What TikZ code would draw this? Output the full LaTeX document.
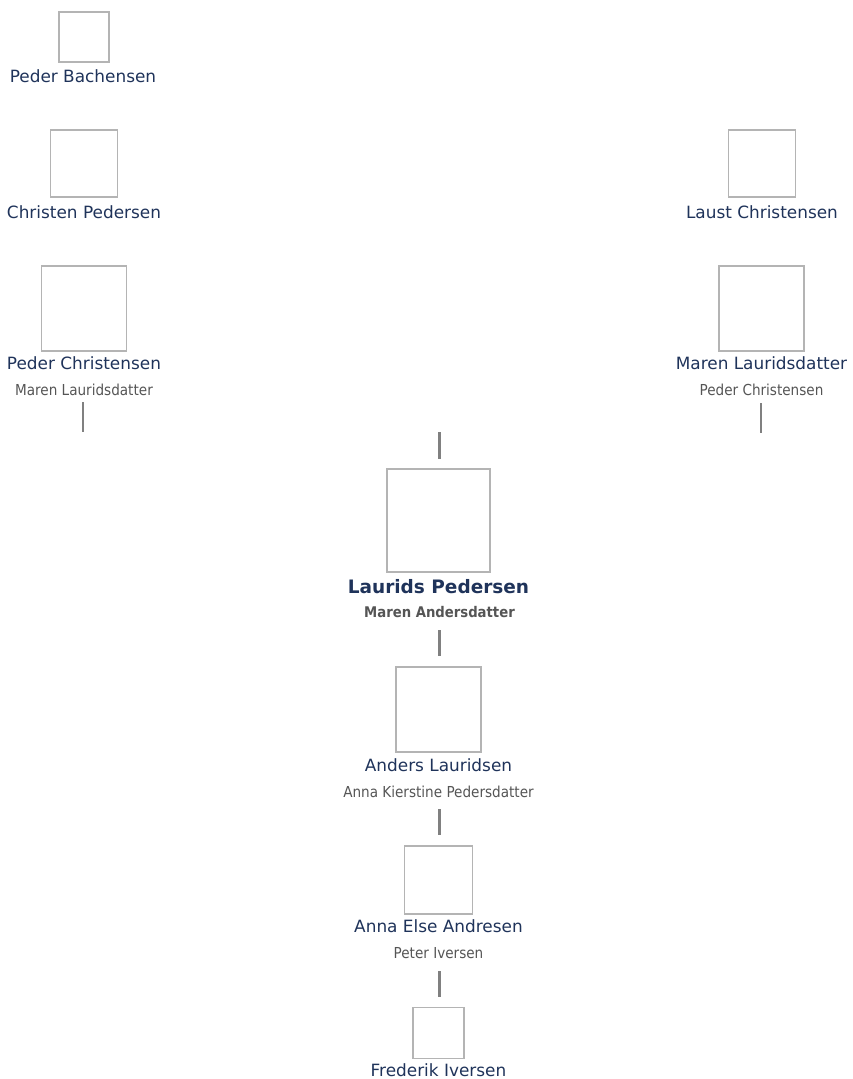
\documentclass[tikz,border=0pt]{standalone}
\usepackage{fontspec}
\setmainfont{DejaVu Sans}
\newfontfamily\condfont{DejaVu Sans Condensed}
\definecolor{namecol}{RGB}{31,51,90}
\definecolor{subcol}{RGB}{85,85,85}
\definecolor{boxcol}{RGB}{180,180,180}
\definecolor{linkcol}{RGB}{128,128,128}
\tikzset{
  photo/.style={draw=boxcol, line width=1.5pt, fill=white, minimum size=#1, inner sep=0pt},
  pname/.style={text=namecol, anchor=base, inner sep=0pt, font=\fontsize{16.9}{18}\selectfont},
  pmain/.style={text=namecol, anchor=base, inner sep=0pt, font=\fontsize{18.5}{20}\selectfont\bfseries},
  spouse/.style={text=subcol, anchor=base, inner sep=0pt, font=\condfont\fontsize{15.1}{16}\selectfont},
  spmain/.style={text=subcol, anchor=base, inner sep=0pt, font=\condfont\fontsize{14.7}{16}\selectfont\bfseries},
  link/.style={draw=linkcol, line width=2.5pt}
}
\begin{document}
\begin{tikzpicture}[x=1pt,y=1pt,yscale=-1,xscale=1]
\useasboundingbox (0,0) rectangle (852,1079);

% left line
\node[photo=50pt] (pb) at (84,37) {};
\node[pname] (pbN) at (83,82) {Peder Bachensen};
\node[photo=67pt] (cp) at (84,163.5) {};
\node[pname] (cpN) at (84,218) {Christen Pedersen};
\node[photo=85pt] (pc) at (84,308.5) {};
\node[pname] (pcN) at (84,369) {Peder Christensen};
\node[spouse] (pcS) at (84,395) {Maren Lauridsdatter};

% right line
\node[photo=67pt] (lc) at (762,163.5) {};
\node[pname] (lcN) at (762,218) {Laust Christensen};
\node[photo=85pt] (ml) at (761.5,308.5) {};
\node[pname] (mlN) at (761.5,369) {Maren Lauridsdatter};
\node[spouse] (mlS) at (761.5,395) {Peder Christensen};

% main person
\node[photo=103pt] (lp) at (438.5,520.5) {};
\node[pmain] (lpN) at (438.5,593) {Laurids Pedersen};
\node[spmain] (lpS) at (439.5,617) {Maren Andersdatter};

% descendants
\node[photo=85pt] (al) at (438.5,709.5) {};
\node[pname] (alN) at (438.5,771) {Anders Lauridsen};
\node[spouse] (alS) at (438.5,797) {Anna Kierstine Pedersdatter};
\node[photo=68pt] (ae) at (438.5,880) {};
\node[pname] (aeN) at (438.5,932) {Anna Else Andresen};
\node[spouse] (aeS) at (438.5,958) {Peter Iversen};
\node[photo=51pt] (fi) at (438.5,1033) {};
\node[pname] (fiN) at (438.5,1076) {Frederik Iversen};

% connectors
\coordinate (pcA) at (83,402);   \coordinate (pcB) at (83,432);
\coordinate (mlA) at (761,403);  \coordinate (mlB) at (761,433);
\coordinate (lpA) at (439.5,432); \coordinate (lpB) at (439.5,459);
\coordinate (lpC) at (439.5,630); \coordinate (lpD) at (439.5,656);
\coordinate (alA) at (439.5,809); \coordinate (alB) at (439.5,835);
\coordinate (aeA) at (439.5,971); \coordinate (aeB) at (439.5,997);
\draw[link] (pcA) -- (pcB);
\draw[link] (mlA) -- (mlB);
\draw[link] (lpA) -- (lpB);
\draw[link] (lpC) -- (lpD);
\draw[link] (alA) -- (alB);
\draw[link] (aeA) -- (aeB);
\end{tikzpicture}
\end{document}
